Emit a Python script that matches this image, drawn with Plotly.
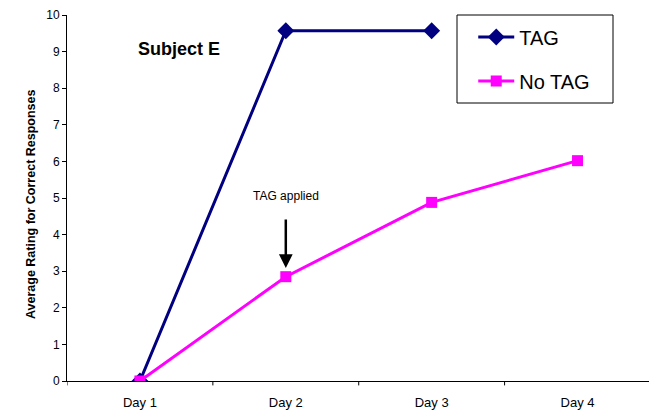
import plotly.graph_objects as go

# Ratings per session
days = ["Day 1", "Day 2", "Day 3", "Day 4"]
tag_values = [0, 9.57, 9.57, None]
no_tag_values = [0, 2.85, 4.88, 6.02]
y_ticks = list(range(0, 11))

FONT = "Liberation Sans, Arial, sans-serif"
x_idx = list(range(len(days)))

fig = go.Figure()
fig.add_trace(go.Scatter(
    x=x_idx, y=tag_values, name="TAG", mode="lines+markers",
    line=dict(color="#000080", width=3),
    marker=dict(symbol="diamond", size=13, color="#000080"),
    legendgroup="a",
))
fig.add_trace(go.Scatter(
    x=x_idx, y=no_tag_values, name="No TAG", mode="lines+markers",
    line=dict(color="#FF00FF", width=3),
    marker=dict(symbol="square", size=11, color="#FF00FF"),
    legendgroup="b",
))

fig.update_layout(
    width=649, height=411,
    margin=dict(l=67, r=0, t=15, b=30),
    paper_bgcolor="white", plot_bgcolor="white",
    font=dict(family=FONT, color="black", size=12),
    showlegend=True,
    legend=dict(
        x=0.698, y=0.993, xanchor="left", yanchor="top",
        font=dict(size=20, family=FONT),
        bgcolor="rgba(0,0,0,0)", borderwidth=0,
        tracegroupgap=15, itemwidth=36,
    ),
    xaxis=dict(
        range=[-0.5, 3.49], tickmode="array",
        tickvals=x_idx, ticktext=days,
        showgrid=False, zeroline=False,
        showline=True, linecolor="black", linewidth=1,
        ticks="", ticklabelstandoff=9, tickfont=dict(size=13),
    ),
    yaxis=dict(
        range=[0, 10], tickvals=y_ticks,
        showgrid=False, zeroline=False,
        showline=True, linecolor="black", linewidth=1,
        ticks="outside", ticklen=4, tickcolor="black",
        tickfont=dict(size=12),
    ),
)

# category boundary ticks on the x axis
for b in [-0.5, 0.5, 1.5, 2.5, 3.5]:
    fig.add_shape(type="line", xref="x", yref="paper",
                  x0=b, x1=b, y0=0, y1=-0.012,
                  line=dict(color="black", width=1))

# legend frame
fig.add_shape(type="rect", xref="paper", yref="paper",
              x0=(457 - 67) / 582, x1=(613 - 67) / 582,
              y0=(381 - 103) / 366, y1=(381 - 15) / 366,
              line=dict(color="black", width=1), fillcolor="rgba(0,0,0,0)")

fig.add_annotation(
    text="<b>Average Rating for Correct Responses</b>", textangle=-90,
    xref="paper", yref="paper", x=(31 - 67) / 582, y=(381 - 204) / 366,
    showarrow=False, font=dict(size=12.5, family=FONT, color="black"),
    xanchor="center", yanchor="middle",
)
fig.add_annotation(
    text="<b>Subject E</b>", xref="paper", yref="paper",
    x=(179 - 67) / 582, y=(381 - 49) / 366, showarrow=False,
    xanchor="center", yanchor="middle",
    font=dict(size=18, family=FONT, color="black"),
)
fig.add_annotation(
    text="TAG applied", x=1, y=no_tag_values[1], xref="x", yref="y",
    yshift=81, showarrow=False, font=dict(size=12, family=FONT, color="black"),
)
fig.add_annotation(
    text="", x=1, y=no_tag_values[1] + 0.24, xref="x", yref="y",
    ax=0, ay=-50, showarrow=True, arrowhead=2, arrowsize=1.1,
    arrowwidth=2.5, arrowcolor="black",
)

fig.write_html("out.html")
